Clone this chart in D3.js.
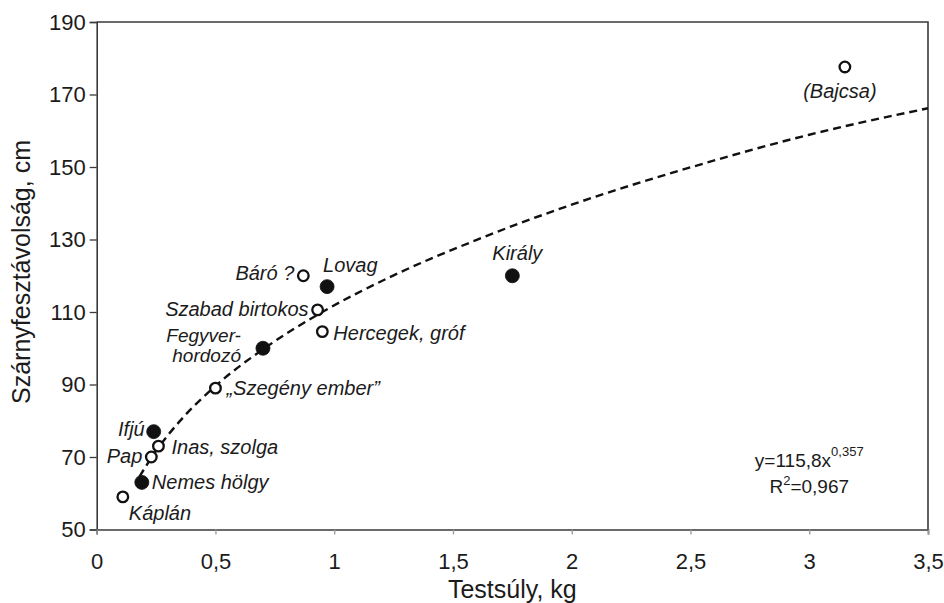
<!DOCTYPE html>
<html>
<head>
<meta charset="utf-8">
<script src="https://cdn.jsdelivr.net/npm/d3@7"></script>
<style>
body{margin:0;background:#fff;}
text{font-family:"Liberation Sans",Arial,sans-serif;fill:#1b1b1b;}
</style>
</head>
<body>
<svg id="chart" width="944" height="603"></svg>
<script>
// ---------------------------------------- DATA ----------------------------------------
var names     = ["Káplán","Nemes hölgy","Pap","Inas, szolga","Ifjú","„Szegény ember”","Fegyver-\nhordozó","Szabad birtokos","Hercegek, gróf","Báró ?","Lovag","Király","(Bajcsa)"];
var weights   = [0.11, 0.19, 0.23, 0.26, 0.24, 0.50, 0.70, 0.93, 0.95, 0.87, 0.97, 1.75, 3.15];
var wingspans = [59, 63, 70, 73, 77, 89, 100, 110.6, 104.6, 120, 117, 120, 177.6];
var filled    = [false, true, false, false, true, false, true, false, false, false, true, true, false];

// dashed power trend, sampled along the drawn curve
var trendX = [0.18, 0.25, 0.35, 0.5, 0.7, 0.95, 1.25, 1.6, 2.0, 2.5, 3.0, 3.5];
var trendY = [64.6, 71.7, 79.9, 89.6, 99.7, 110.0, 120.1, 129.9, 139.6, 149.9, 158.9, 166.2];

var xTicks = [0, 0.5, 1, 1.5, 2, 2.5, 3, 3.5];
var yTicks = [50, 70, 90, 110, 130, 150, 170, 190];

var eqMain = "y=115,8x", eqExp = "0,357", r2Val = "=0,967";

// ---------------------------------------- LAYOUT ----------------------------------------
var X_LEFT = 96.7, X_RIGHT = 928, Y_TOP = 22, Y_BOTTOM = 529.5;
var AXIS_COLOR = "#3a3a3a";

var svg = d3.select("#chart");
var x = d3.scaleLinear().domain([0, 3.5]).range([X_LEFT, X_RIGHT]);
var y = d3.scaleLinear().domain([50, 190]).range([Y_BOTTOM, Y_TOP]);

function _fmt(d){ return String(d).replace(".", ","); }

// label offsets per point: dx, dy(first baseline), anchor
var LABEL_POS = [
	[6, 23, "start"],   // Káplán
	[10, 7, "start"],   // Nemes hölgy
	[-9, 6, "end"],     // Pap
	[13, 8, "start"],   // Inas, szolga
	[-9, 4, "end"],     // Ifjú
	[11, 7, "start"],   // Szegény ember
	[-22, -6, "end"],   // Fegyver-hordozó
	[-9, 6, "end"],     // Szabad birtokos
	[11, 8, "start"],   // Hercegek, gróf
	[-9, 4, "end"],     // Báró ?
	[-4, -15, "start"], // Lovag
	[5, -16, "middle"], // Király
	[-5, 31, "middle"]  // Bajcsa
];

// ---------------------------------------- AXES ----------------------------------------
function drawAxes(){
	var gy = svg.append("g").attr("transform", "translate(" + X_LEFT + ",0)")
		.call(d3.axisLeft(y).tickValues(yTicks).tickSize(7).tickPadding(4).tickFormat(_fmt));
	var gx = svg.append("g").attr("transform", "translate(0," + Y_BOTTOM + ")")
		.call(d3.axisBottom(x).tickValues(xTicks).tickSize(5).tickPadding(19).tickFormat(_fmt));

	[gx, gy].forEach(function(g){
		g.select(".domain").attr("stroke", AXIS_COLOR).attr("stroke-width", 1.6);
		g.selectAll(".tick line").attr("stroke", AXIS_COLOR).attr("stroke-width", 1.3);
		g.selectAll(".tick text").style("font-size", "22px").attr("fill", "#1b1b1b");
	});
	gx.selectAll(".tick line").attr("stroke", "#9a9a9a");

	// box around the plot
	svg.append("path")
		.attr("d", "M" + X_LEFT + "," + Y_TOP + "H" + X_RIGHT + "V" + Y_BOTTOM)
		.attr("fill", "none")
		.attr("stroke", AXIS_COLOR)
		.attr("stroke-width", 1.6);

	svg.append("text")
		.text("Testsúly, kg")
		.attr("x", (X_LEFT + X_RIGHT) / 2)
		.attr("y", 598)
		.style("font-size", "25px")
		.style("text-anchor", "middle");

	svg.append("text")
		.text("Szárnyfesztávolság, cm")
		.attr("transform", "translate(30," + 272 + ") rotate(-90)")
		.style("font-size", "25px")
		.style("text-anchor", "middle");
}

// ---------------------------------------- TREND + POINTS ----------------------------------------
function drawTrend(){
	var line = d3.line()
		.x(function(d){ return x(d[0]); })
		.y(function(d){ return y(d[1]); })
		.curve(d3.curveMonotoneX);

	svg.append("path")
		.datum(d3.zip(trendX, trendY))
		.attr("d", line)
		.attr("fill", "none")
		.attr("stroke", "#111")
		.attr("stroke-width", 2.4)
		.attr("stroke-dasharray", "8,5");
}

function drawPoints(){
	var pts = names.map(function(n, i){
		return {name: n, w: weights[i], s: wingspans[i], filled: filled[i], pos: LABEL_POS[i]};
	});

	svg.append("g").selectAll("circle")
		.data(pts)
		.enter()
		.append("circle")
		.attr("cx", function(d){ return x(d.w); })
		.attr("cy", function(d){ return y(d.s); })
		.attr("r", function(d){ return d.filled ? 7 : 5.3; })
		.attr("fill", function(d){ return d.filled ? "#111" : "#fff"; })
		.attr("stroke", "#111")
		.attr("stroke-width", function(d){ return d.filled ? 0.8 : 2.3; });

	var labels = svg.append("g");
	pts.forEach(function(d){
		var _lines = d.name.split("\n");
		_lines.forEach(function(l, k){
			// one text per line so the wrapped label stays two separate rows
			labels.append("text")
				.text(l)
				.attr("x", x(d.w) + d.pos[0])
				.attr("y", y(d.s) + d.pos[1] + k * 20)
				.style("font-size", _lines.length > 1 ? "19px" : "20px")
				.style("font-style", "italic")
				.style("text-anchor", d.pos[2]);
		});
	});
}

function drawEquation(){
	var _cx = x(3.0);
	var t1 = svg.append("text")
		.attr("x", _cx)
		.attr("y", y(67.2))
		.style("font-size", "19px")
		.style("text-anchor", "middle");
	t1.append("tspan").text(eqMain);
	t1.append("tspan").attr("dy", -11).style("font-size", "13px").text(eqExp);

	var t2 = svg.append("text")
		.attr("x", _cx)
		.attr("y", y(60))
		.style("font-size", "19px")
		.style("text-anchor", "middle");
	t2.append("tspan").text("R");
	t2.append("tspan").attr("dy", -8).style("font-size", "13px").text("2");
	t2.append("tspan").attr("dy", 8).text(r2Val);
}

drawAxes();
drawTrend();
drawPoints();
drawEquation();
</script>
</body>
</html>
